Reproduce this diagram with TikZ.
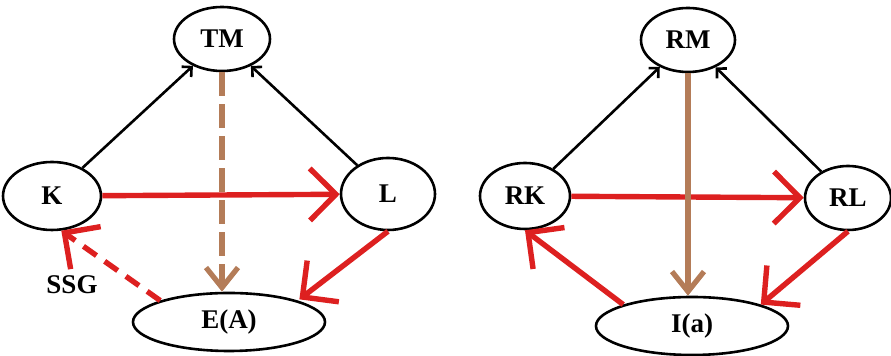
\documentclass[tikz,border=0pt]{standalone}
\usepackage{fontspec}
\setmainfont{Liberation Serif}
\usetikzlibrary{shapes.geometric,arrows.meta}
\definecolor{redline}{RGB}{221,32,32}
\definecolor{brownline}{RGB}{180,124,88}
\tikzset{
	oval/.style={draw, ellipse, line width=1.3pt, inner sep=0pt, font=\fontsize{13.5}{16}\selectfont\bfseries},
	blackarrow/.style={line width=1.3pt, -{Straight Barb[length=3.5pt,width=7pt]}},
	redarrow/.style={draw=redline, line width=2.7pt, -{Straight Barb[length=13pt,width=26pt]}},
	brownarrow/.style={draw=brownline, line width=2.6pt, -{Straight Barb[length=10pt,width=16pt]}}
}
\begin{document}
\begin{tikzpicture}[x=0.5pt,y=-0.5pt]
		\useasboundingbox (0,0) rectangle (891,356);
		% left diagram
		\node[oval, minimum width=48pt, minimum height=32pt] (TM) at (222,39) {TM};
		\node[oval, minimum width=49pt, minimum height=34pt] (K) at (52,196) {K};
		\node[oval, minimum width=47pt, minimum height=36pt] (L) at (388,194) {L};
		\node[oval, minimum width=96pt, minimum height=29pt] (EA) at (229,322) {E(A)};
		\node[font=\fontsize{13.5}{16}\selectfont\bfseries] (SSG) at (72,285) {SSG};
		\draw[blackarrow] (K) -- (TM);
		\draw[blackarrow] (L) -- (TM);
		\draw[redarrow] (K) -- (L);
		\draw[brownarrow, dash pattern=on 12pt off 4pt] (TM.south) -- (TM.south |- EA.north);
		\draw[redarrow, shorten >=1pt] (L.south) -- (EA.north east);
		\draw[redarrow, dash pattern=on 8pt off 5pt] (EA.north west) -- (K.-75);
		% right diagram
		\node[oval, minimum width=47pt, minimum height=32pt] (RM) at (688,40) {RM};
		\node[oval, minimum width=45pt, minimum height=33pt] (RK) at (525,196) {RK};
		\node[oval, minimum width=43pt, minimum height=32pt] (RL) at (848,198) {RL};
		\node[oval, minimum width=96pt, minimum height=29pt] (Ia) at (692,326) {I(a)};
		\draw[blackarrow] (RK) -- (RM);
		\draw[blackarrow] (RL) -- (RM);
		\draw[redarrow] (RK) -- (RL);
		\draw[brownarrow] (RM.south) -- (RM.south |- Ia.north);
		\draw[redarrow] (Ia.north west) -- (RK.south);
		\draw[redarrow] (RL.south) -- (Ia.north east);
	\end{tikzpicture}
\end{document}
